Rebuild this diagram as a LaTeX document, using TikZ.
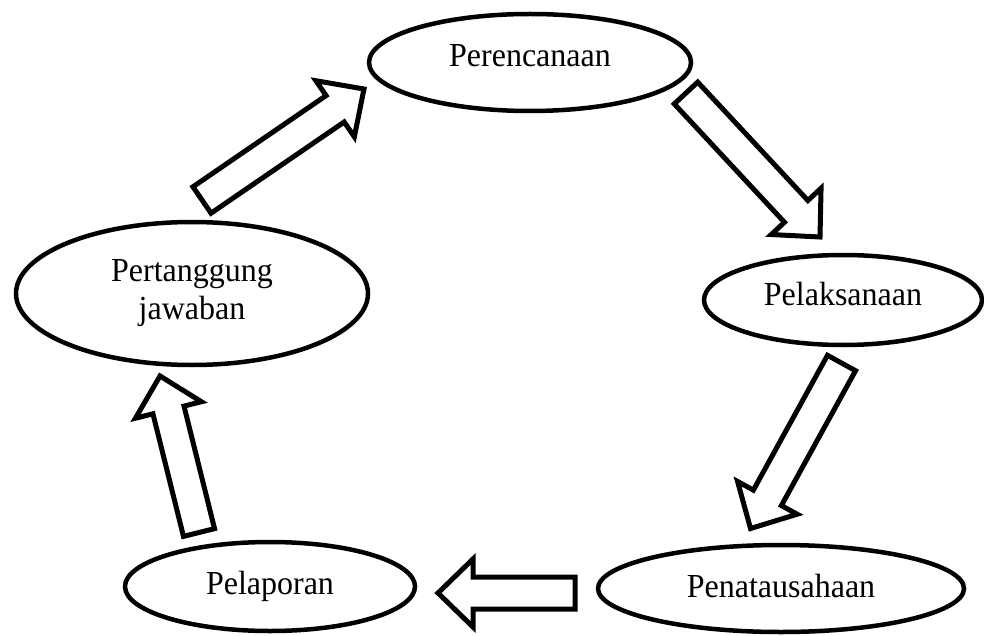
\documentclass[tikz,border=0pt]{standalone}
\usepackage{fontspec}
\setmainfont{Liberation Serif}
\usetikzlibrary{shapes.geometric,calc}
\tikzset{
  ell/.style={draw, ellipse, line width=4.5pt, inner sep=0pt,
    font=\fontsize{32}{38}\selectfont},
  barrow/.style={draw, line width=5pt, line join=miter, fill=white},
}
\newcommand\blockarr[3]{%
  \coordinate (#1n) at ($(#3)!35pt!(#2)$);
  \draw[barrow] ($(#2)!16pt!90:(#3)$) -- ($(#1n)!16pt!90:(#3)$)
    -- ($(#1n)!34pt!90:(#3)$) -- (#3) -- ($(#1n)!34pt!-90:(#3)$)
    -- ($(#1n)!16pt!-90:(#3)$) -- ($(#2)!16pt!-90:(#3)$) -- cycle;}
\begin{document}
\begin{tikzpicture}[x=1pt,y=-1pt]
\useasboundingbox (0,0) rectangle (984,636);
\node[ell, minimum width=322pt, minimum height=97pt, text height=9pt, text depth=0pt] (per) at (530,62.5) {\scalebox{1}[1.05]{Perencanaan}};
\node[ell, minimum width=278pt, minimum height=90pt, text height=10pt, text depth=0pt] (pel) at (843,300) {\scalebox{1}[1.05]{Pelaksanaan}};
\node[ell, minimum width=366pt, minimum height=87pt, text height=17pt, text depth=0pt] (pen) at (781,588.5) {\scalebox{1}[1.05]{Penatausahaan}};
\node[ell, minimum width=290pt, minimum height=89pt, text height=15pt, text depth=0pt] (lap) at (270,586.5) {\scalebox{1}[1.05]{Pelaporan}};
\node[ell, align=center, minimum width=352pt, minimum height=143pt] (pj) at (192,293.5) {\scalebox{1}[1.05]{Pertanggung}\\\scalebox{1}[1.05]{jawaban}};
\coordinate (a1t) at (202,200);   \coordinate (a1h) at (364,89);
\coordinate (a2t) at (686,93);    \coordinate (a2h) at (820,237);
\coordinate (a3t) at (841.5,363); \coordinate (a3h) at (750.5,528.5);
\coordinate (a4t) at (575,593);   \coordinate (a4h) at (438,593);
\coordinate (a5t) at (199,532.5); \coordinate (a5h) at (160,376);
\blockarr{a1}{a1t}{a1h}
\blockarr{a2}{a2t}{a2h}
\blockarr{a3}{a3t}{a3h}
\blockarr{a4}{a4t}{a4h}
\blockarr{a5}{a5t}{a5h}
\end{tikzpicture}
\end{document}
